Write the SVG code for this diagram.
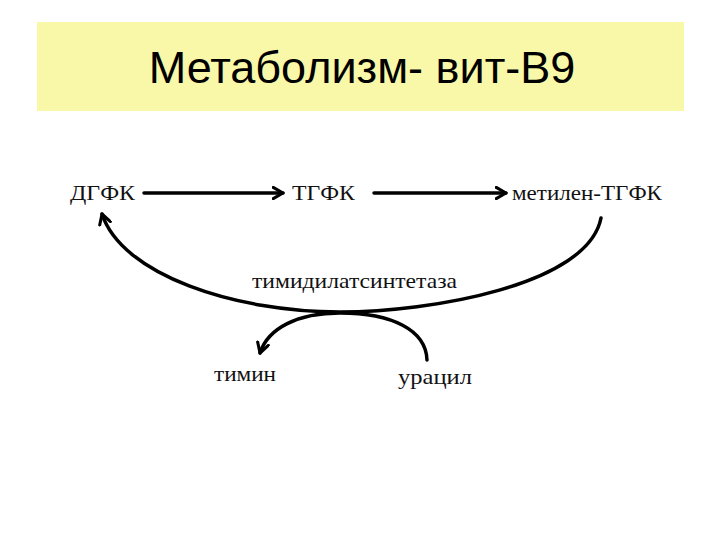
<svg xmlns="http://www.w3.org/2000/svg" width="720" height="540" viewBox="0 0 720 540">
<style>
.lbl{font-family:"Liberation Serif","Times New Roman",serif;font-size:22px;fill:#111}
.ln{fill:none;stroke:#000;stroke-width:3.5;stroke-linecap:round}
</style>
<defs>
<marker id="chev" viewBox="0 0 10 10" refX="8" refY="5" markerWidth="4" markerHeight="4" orient="auto" markerUnits="strokeWidth">
<path d="M1,1 L8,5 L1,9" fill="none" stroke="#000" stroke-width="2.2" stroke-linecap="round" stroke-linejoin="round"/>
</marker>
</defs>
<rect width="720" height="540" fill="#fff"/>
<g id="title">
<rect x="37" y="22" width="647" height="89" fill="#f8f8a8"/>
<text x="362" y="83" text-anchor="middle" font-family="Liberation Sans, Arial, sans-serif" font-size="45" fill="#000">Метаболизм- вит-В9</text>
</g>
<g id="connectors">
<line class="ln" x1="144" y1="193" x2="283" y2="193" marker-end="url(#chev)"/>
<line class="ln" x1="374" y1="193" x2="506" y2="193" marker-end="url(#chev)"/>
<path class="ln" d="M601 218 C588 285 430 312 340 312 C235 312 122 275 102 214" marker-end="url(#chev)"/>
<path class="ln" d="M427 360 C426 330 392 313 340 313 C298 313 268 328 260 353" marker-end="url(#chev)"/>
</g>
<g id="n-dgfk"><text class="lbl" x="70" y="200" textLength="65" lengthAdjust="spacingAndGlyphs">ДГФК</text></g>
<g id="n-tgfk"><text class="lbl" x="292" y="200" textLength="63" lengthAdjust="spacingAndGlyphs">ТГФК</text></g>
<g id="n-metilen"><text class="lbl" x="512" y="200" textLength="150" lengthAdjust="spacingAndGlyphs">метилен-ТГФК</text></g>
<g id="n-enzyme"><text class="lbl" x="252" y="288" textLength="205" lengthAdjust="spacingAndGlyphs">тимидилатсинтетаза</text></g>
<g id="n-timin"><text class="lbl" x="214" y="381" textLength="62" lengthAdjust="spacingAndGlyphs">тимин</text></g>
<g id="n-uracil"><text class="lbl" x="398" y="384" textLength="74" lengthAdjust="spacingAndGlyphs">урацил</text></g>
</svg>
